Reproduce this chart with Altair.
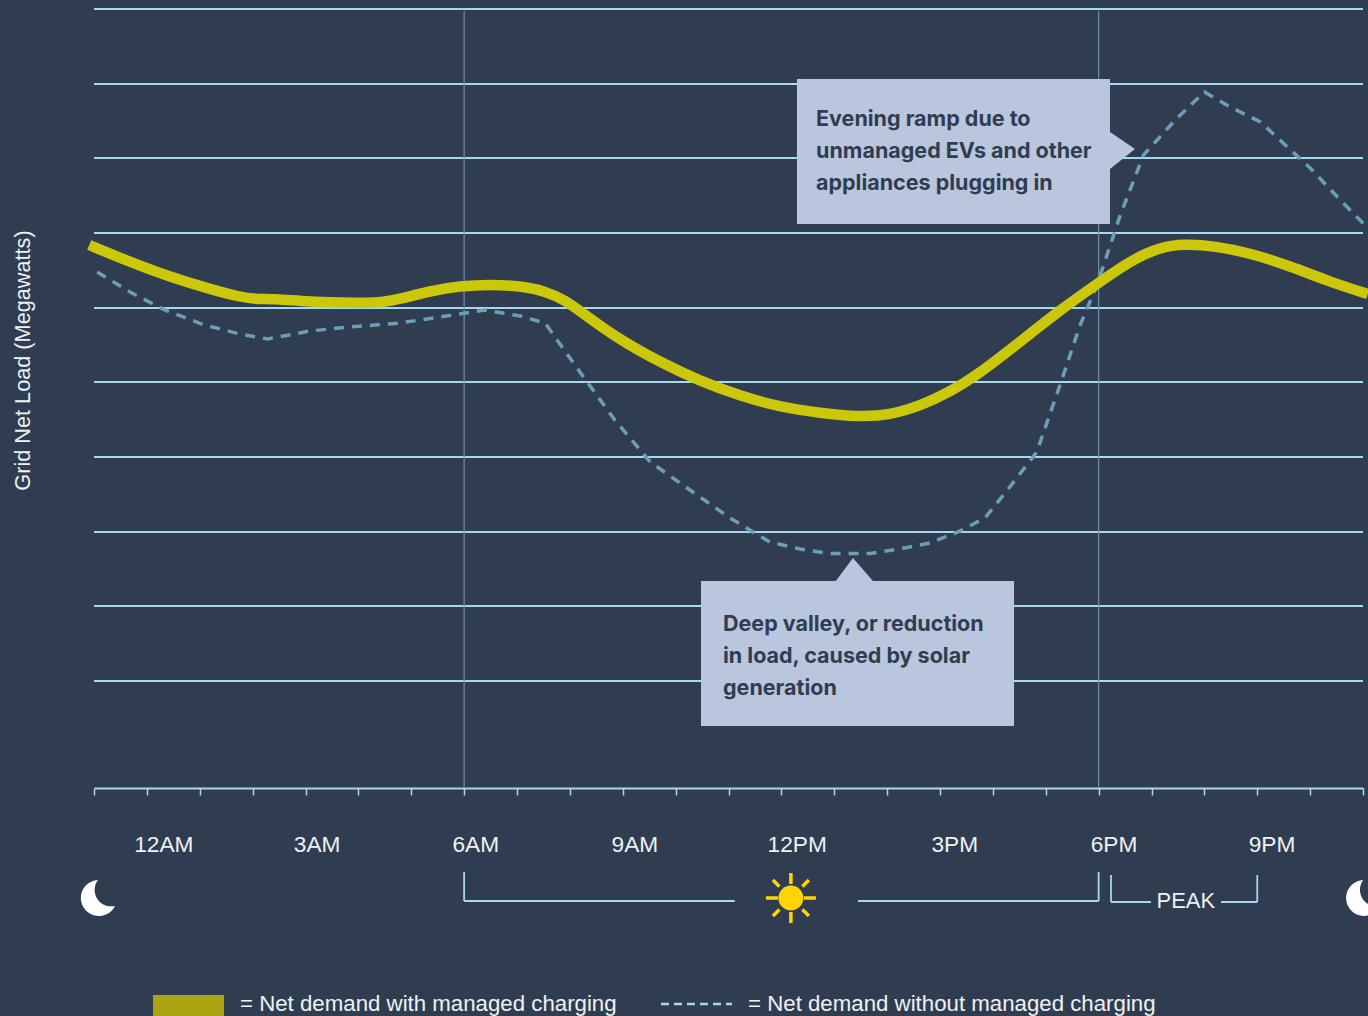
import altair as alt
import pandas as pd

BG = "#303d51"
GRID = "#a6d8f0"
LIGHT = "#eef2f5"
BOX = "#b9c6dd"
MANAGED = "#cbc80b"
UNMANAGED = "#6a9fba"
SUN = "#ffd400"

# Net load curves: hour of day and load on the chart's unlabeled vertical scale
managed_hour = [-1.09, -0.32, 0.44, 1.19, 1.76, 2.04, 2.42, 2.90, 3.46, 4.03, 4.50, 4.79, 5.35, 5.92, 6.49,
                7.06, 7.53, 7.91, 8.29, 8.95, 9.70, 10.46, 11.22, 11.97, 12.73, 13.49, 14.05, 14.62, 15.19,
                15.76, 16.51, 17.27, 17.97, 18.59, 19.16, 19.63, 20.20, 20.86, 21.62, 22.38, 23.09]
managed_load = [543, 526, 511, 499, 491, 489, 489, 487, 485.5, 485, 486, 489, 497, 502, 503.5,
                502, 497, 488, 473, 448, 426, 407, 392, 381, 375, 371, 373, 382, 396,
                415, 446, 478, 504, 527, 541, 544, 542, 535, 522, 506, 494]

unmanaged_hour = [-0.94, -0.32, 0.34, 1.09, 1.76, 2.29, 3.08, 3.84, 4.78, 5.54, 6.39, 7.06, 7.53, 8.19, 8.85,
                  9.52, 10.27, 11.03, 11.78, 12.35, 12.92, 13.68, 14.24, 14.81, 15.38, 15.85, 16.32, 16.83,
                  17.27, 17.65, 17.97, 18.41, 18.85, 19.45, 20.0, 20.49, 21.06, 21.53, 22.0, 22.57, 23.09]
unmanaged_load = [516, 496, 478, 463, 454, 449, 457, 461, 465, 471, 478, 472, 465, 416, 368,
                  326, 298, 270, 246, 239, 234.5, 234.5, 239, 245, 257, 270, 301, 336,
                  403, 463, 503, 573, 633, 668, 696, 681, 666, 643, 620, 588, 560]

grid_load = [779, 704, 630, 555, 480, 406, 331, 256, 182, 107]
tick_hours = list(range(-1, 24))
guide_hours = [6, 18]

time_labels = ["12AM", "3AM", "6AM", "9AM", "12PM", "3PM", "6PM", "9PM"]
time_label_hour = [0.32, 3.22, 6.22, 9.23, 12.30, 15.28, 18.29, 21.28]

callout_lines = ["Evening ramp due to", "unmanaged EVs and other", "appliances plugging in",
                 "Deep valley, or reduction", "in load, caused by solar", "generation"]
callout_hour = [12.655, 12.655, 12.655, 10.896, 10.896, 10.896]
callout_load = [668, 636, 604, 163, 131, 99]

box_h0, box_h1 = [12.295, 10.48], [18.215, 16.40]
box_l0, box_l1 = [564, 62], [709, 207]

# Daylight and peak brackets below the time axis
bracket_h0 = [6, 6, 13.449, 18, 18.234, 18.234, 20.315, 21]
bracket_h1 = [6, 11.12, 18, 18, 18.234, 18.99, 21, 21]
bracket_l0 = [-84, -113, -113, -84, -87, -114, -114, -87]
bracket_l1 = [-113, -113, -113, -113, -114, -114, -114, -114]

MOON = "M-0.05 -1 A1 1 0 1 0 0.9 0.44 A0.92 0.92 0 0 1 -0.05 -1 Z"
RAYS = ("M-.07 -1L.07 -1L.07 -.56L-.07 -.56Z M-.07 .56L.07 .56L.07 1L-.07 1Z "
        "M-1 -.07L-.52 -.07L-.52 .07L-1 .07Z M.52 -.07L1 -.07L1 .07L.52 .07Z "
        "M-.67 -.77L-.41 -.51L-.51 -.41L-.77 -.67Z M.67 -.77L.77 -.67L.51 -.41L.41 -.51Z "
        "M-.67 .77L-.77 .67L-.51 .41L-.41 .51Z M.67 .77L.41 .51L.51 .41L.77 .67Z")

x_scale = alt.Scale(domain=[-1, 23], range=[94, 1363], nice=False, zero=False)
y_scale = alt.Scale(domain=[0, 788], range=[788, 0], nice=False, zero=False)

# Time axis with hourly ticks and the load axis title, shared by every layer
x_axis = alt.Axis(
    values=tick_hours, title=None, labels=False, grid=False, tickSize=7, tickWidth=1.5,
    tickColor=GRID, domainColor=GRID, domainWidth=1.8)
y_axis = alt.Axis(
    title="Grid Net Load (Megawatts)", labels=False, ticks=False, domain=False, grid=False,
    titleColor=LIGHT, titleFont="Liberation Sans", titleFontSize=21.7, titleFontWeight="normal",
    titleX=22, titleY=360, titleAngle=270, titleAlign="center", titleBaseline="middle")

X = lambda f="h": alt.X(f"{f}:Q", scale=x_scale, axis=x_axis)
Y = lambda f="l": alt.Y(f"{f}:Q", scale=y_scale, axis=y_axis)


def rules(h0, h1, l0, l1, color, width):
    df = pd.DataFrame({"h": h0, "h2": h1, "l": l0, "l2": l1})
    return alt.Chart(df).mark_rule(color=color, strokeWidth=width).encode(
        x=X(), x2="h2:Q", y=Y(), y2="l2:Q"
    )


def text(labels, hours, loads, size=22, color=LIGHT, align="center", font="Liberation Sans", weight=400):
    df = pd.DataFrame({"t": labels, "h": hours, "l": loads})
    return alt.Chart(df).mark_text(
        align=align, baseline="middle", font=font, fontSize=size, fontWeight=weight, color=color
    ).encode(x=X(), y=Y(), text="t:N")


def symbol(hours, load, shape, size, color):
    df = pd.DataFrame({"h": hours, "l": [load] * len(hours)})
    return alt.Chart(df).mark_point(
        shape=shape, size=size, filled=True, fill=color, strokeWidth=0, opacity=1
    ).encode(x=X(), y=Y())


grid = rules([-1] * 10, [23] * 10, grid_load, grid_load, GRID, 1.8)
guides = rules(guide_hours, guide_hours, [0, 0], [777, 777], "#6d90a8", 1.2)

unmanaged = alt.Chart(pd.DataFrame({"h": unmanaged_hour, "l": unmanaged_load})).mark_line(
    color=UNMANAGED, strokeWidth=3.5, strokeDash=[10, 8]
).encode(x=X(), y=Y())

managed = alt.Chart(pd.DataFrame({"h": managed_hour, "l": managed_load})).mark_line(
    color=MANAGED, strokeWidth=10.5, interpolate="basis", strokeCap="butt"
).encode(x=X(), y=Y())

boxes = alt.Chart(pd.DataFrame({"h": box_h0, "h2": box_h1, "l": box_l0, "l2": box_l1})).mark_rect(
    color=BOX
).encode(x=X(), x2="h2:Q", y=Y(), y2="l2:Q")

pointer_right = alt.Chart(pd.DataFrame({"h": [18.215, 18.688], "l": [656, 639], "l2": [619, 639]})).mark_area(
    color=BOX, opacity=1
).encode(x=X(), y=Y(), y2="l2:Q")
pointer_up = alt.Chart(pd.DataFrame({"h": [13.03, 13.354, 13.733], "l": [207, 230, 207], "l2": [207, 207, 207]})).mark_area(
    color=BOX, opacity=1
).encode(x=X(), y=Y(), y2="l2:Q")

callouts = text(callout_lines, callout_hour, callout_load, size=21.5, color=BG, align="left", font="Inter", weight=700)
times = text(time_labels, time_label_hour, [-57] * 8, size=22.7)
brackets = rules(bracket_h0, bracket_h1, bracket_l0, bracket_l1, GRID, 1.8)
peak = text(["PEAK"], [19.65], [-113])

moons = symbol([-0.91, 23.02], -110, MOON, 1296, "#ffffff")
sun_disc = symbol([12.18], -110, "circle", 625, SUN)
sun_rays = symbol([12.18], -110, RAYS, 2500, SUN)

# Legend row
swatch = alt.Chart(pd.DataFrame({"h": [0.116], "h2": [1.459], "l": [-207], "l2": [-228]})).mark_rect(
    color="#a9a410"
).encode(x=X(), x2="h2:Q", y=Y(), y2="l2:Q")
legend_dash = alt.Chart(pd.DataFrame({"h": [9.723, 11.066], "l": [-216, -216]})).mark_line(
    color=GRID, strokeWidth=2.5, strokeDash=[8, 5]
).encode(x=X(), y=Y())
legend_text = text(["= Net demand with managed charging", "= Net demand without managed charging"],
                   [1.761, 11.369], [-216, -216], size=22.25, align="left")

chart = alt.layer(
    grid, guides, unmanaged, managed, boxes, pointer_right, pointer_up, callouts,
    times, brackets, peak, moons, sun_disc, sun_rays, swatch, legend_dash, legend_text
).properties(
    width=1368, height=788, background=BG, autosize="none",
    padding={"left": 0, "top": 0, "right": 0, "bottom": 228},
).configure_view(stroke=None)

chart.save("out.html", embed_options={"renderer": "svg", "actions": False})
